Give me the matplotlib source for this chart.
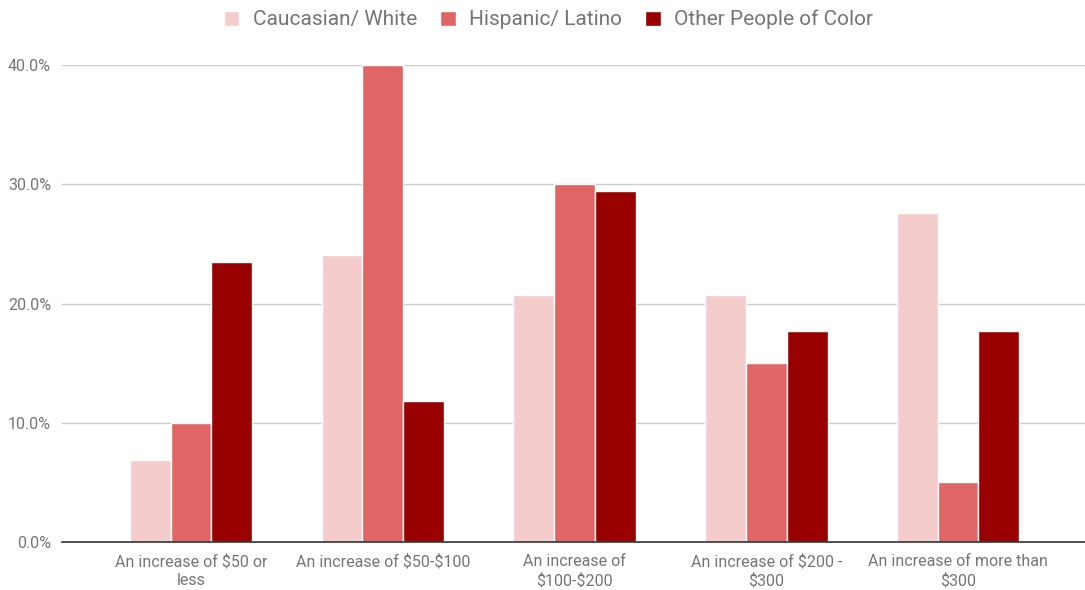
import matplotlib
matplotlib.use("Agg")
import matplotlib.pyplot as plt
import numpy as np
from matplotlib.ticker import FuncFormatter

categories = ["An increase of $50 or\nless", "An increase of $50-$100",
              "An increase of\n$100-$200", "An increase of $200 -\n$300",
              "An increase of more than\n$300"]
series_names = ["Caucasian/ White", "Hispanic/ Latino", "Other People of Color"]
white = [6.9, 24.1, 20.7, 20.7, 27.6]
hispanic = [10.0, 40.0, 30.0, 15.0, 5.0]
other = [23.5, 11.8, 29.4, 17.7, 17.7]
colors = ["#f4cccc", "#e06666", "#990000"]
yticks = [0, 10, 20, 30, 40]

plt.rcParams['font.family'] = ['Roboto', 'DejaVu Sans']
plt.rcParams['text.parse_math'] = False
fig = plt.figure(figsize=(10.85, 5.9), dpi=100)
ax = fig.add_axes([62/1085, 1-542/590, 1-62/1085, (542-65)/590])

x = np.arange(len(categories))
w = 0.213
for i, (vals, name, c) in enumerate(zip([white, hispanic, other], series_names, colors)):
    ax.bar(x + (i-1)*w, vals, width=w, color=c, edgecolor="white", linewidth=1, label=name, zorder=3)

ax.set_xlim(-0.673, 4.662)
ax.set_ylim(0, 40)
ax.set_yticks(yticks)
ax.yaxis.set_major_formatter(FuncFormatter(lambda v, p: f"{v:.1f}%"))
ax.set_xticks(x)
ax.set_xticklabels(categories, fontsize=11.5, color="#757575", linespacing=1.25)
ax.tick_params(axis='y', labelsize=11.5, labelcolor="#757575", length=0, pad=8)
ax.tick_params(axis='x', length=0, pad=9)
ax.grid(axis='y', color="#cccccc", linewidth=1, zorder=0)
for s in ["top", "right", "left"]:
    ax.spines[s].set_visible(False)
ax.spines["bottom"].set_color("#333333")
ax.spines["bottom"].set_linewidth(1.2)
ax.spines["bottom"].set_zorder(4)

fig.legend(loc="upper center", bbox_to_anchor=(0.5055, 1.015), ncol=3, frameon=False,
           fontsize=15, labelcolor="#757575", handlelength=0.75, handleheight=0.75,
           handletextpad=0.65, columnspacing=1.1)
fig.savefig("out.png", dpi=100)
